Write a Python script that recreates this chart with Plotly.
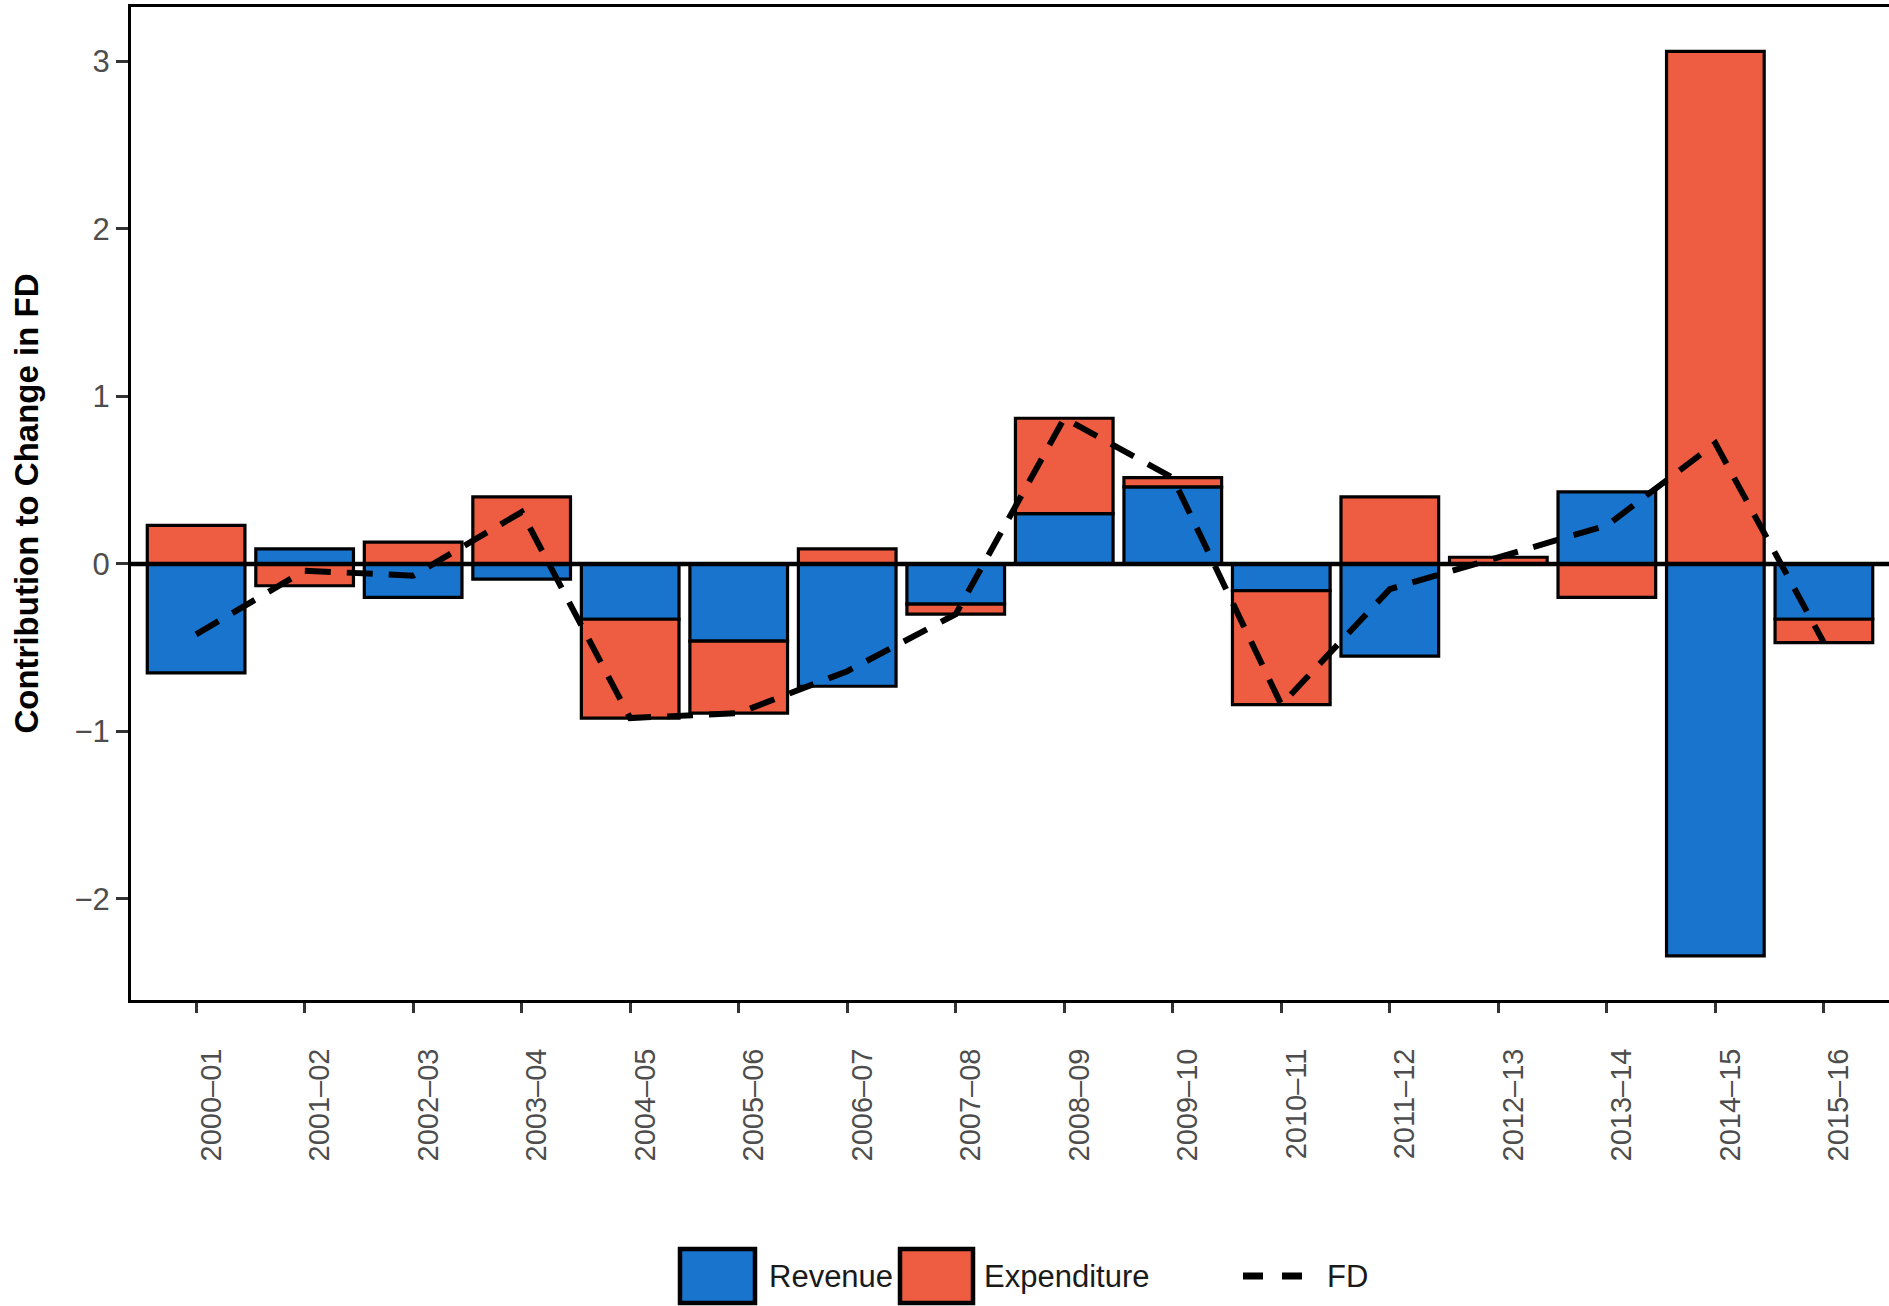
import plotly.graph_objects as go

# Fiscal years and the decomposition of the change in the fiscal deficit
periods = ["2000–01", "2001–02", "2002–03", "2003–04", "2004–05", "2005–06",
           "2006–07", "2007–08", "2008–09", "2009–10", "2010–11", "2011–12",
           "2012–13", "2013–14", "2014–15", "2015–16"]
revenue = [-0.65, 0.09, -0.20, -0.09, -0.33, -0.46, -0.73, -0.24,
           0.30, 0.46, -0.16, -0.55, 0.0, 0.43, -2.34, -0.33]
expenditure = [0.23, -0.13, 0.13, 0.40, -0.59, -0.43, 0.09, -0.06,
               0.57, 0.055, -0.68, 0.40, 0.04, -0.20, 3.06, -0.14]
fd = [-0.42, -0.04, -0.07, 0.31, -0.92, -0.89, -0.64, -0.30,
      0.87, 0.515, -0.84, -0.15, 0.04, 0.23, 0.72, -0.47]

y_ticks = [-2, -1, 0, 1, 2, 3]
y_tick_text = ["−2", "−1", "0", "1", "2", "3"]

BLUE = "#1874CD"
RED = "#EE5C42"
GREY = "#4D4D4D"
SANS = "Liberation Sans, Arial, sans-serif"

W, H = 1889, 1306
L, R, T, B = 131, 0, 7, 306
PW, PH = W - L - R, H - T - B


def px_x(px):
    return (px - L) / PW


def px_y(py):
    return (H - B - py) / PH


fig = go.Figure()
fig.add_trace(go.Bar(x=periods, y=revenue, name="Revenue", width=0.9,
                     marker=dict(color=BLUE, line=dict(color="black", width=3.2)),
                     showlegend=False))
fig.add_trace(go.Bar(x=periods, y=expenditure, name="Expenditure", width=0.9,
                     marker=dict(color=RED, line=dict(color="black", width=3.2)),
                     showlegend=False))
fig.add_trace(go.Scatter(x=periods, y=fd, name="FD", mode="lines",
                         line=dict(color="black", width=6, dash="26px,16px"),
                         showlegend=False))

shapes = [
    # horizontal reference line at zero
    dict(type="line", xref="paper", yref="y", x0=0, x1=1, y0=0, y1=0,
         line=dict(color="black", width=4.5), layer="above"),
]

# legend drawn below the plot panel
legend_y0, legend_y1 = 1249, 1303
legend_mid = (legend_y0 + legend_y1) / 2
for x0, x1, col in [(680, 755, BLUE), (900, 973, RED)]:
    shapes.append(dict(type="rect", xref="paper", yref="paper",
                       x0=px_x(x0), x1=px_x(x1), y0=px_y(legend_y1), y1=px_y(legend_y0),
                       fillcolor=col, line=dict(color="black", width=4.5)))
shapes.append(dict(type="line", xref="paper", yref="paper",
                   x0=px_x(1243), x1=px_x(1304), y0=px_y(legend_mid), y1=px_y(legend_mid),
                   line=dict(color="black", width=7, dash="20px,19px")))

annotations = []
for x, label in [(767, "Revenue"), (982, "Expenditure"), (1325, "FD")]:
    annotations.append(dict(xref="paper", yref="paper", x=px_x(x), y=px_y(legend_mid),
                            text=label, showarrow=False, xanchor="left", yanchor="middle",
                            font=dict(family=SANS, size=31, color="#1A1A1A")))

fig.update_layout(
    width=W, height=H,
    margin=dict(l=L, r=R, t=T, b=B, autoexpand=False),
    paper_bgcolor="white", plot_bgcolor="white",
    barmode="relative",
    shapes=shapes,
    annotations=annotations,
    xaxis=dict(
        type="category", range=[-0.6, 15.6],
        showgrid=False, zeroline=False,
        showline=True, linecolor="black", linewidth=3, mirror=True,
        ticks="outside", ticklen=10, tickwidth=3, tickcolor="#333333",
        tickangle=-90, ticklabelstandoff=24, ticklabelshift=15,
        tickfont=dict(family=SANS, size=29, color=GREY),
    ),
    yaxis=dict(
        range=[-2.603, 3.325],
        showgrid=False, zeroline=False,
        showline=True, linecolor="black", linewidth=3,
        ticks="outside", ticklen=12, tickwidth=3, tickcolor="#333333",
        tickvals=y_ticks, ticktext=y_tick_text,
        tickfont=dict(family=SANS, size=31, color=GREY),
        title=dict(text="Contribution to Change in FD", standoff=26,
                   font=dict(family=SANS, size=33, color="black", weight="bold")),
    ),
)

fig.write_html("out.html")
